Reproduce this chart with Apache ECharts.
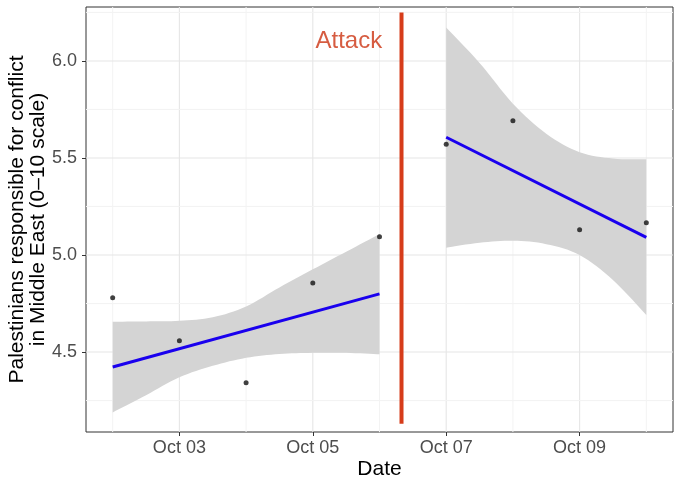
<!DOCTYPE html>
<html>
<head>
<meta charset="utf-8">
<script src="https://cdn.jsdelivr.net/npm/echarts@6/dist/echarts.min.js"></script>
<style>
  html, body { margin: 0; padding: 0; background: #fff; }
  #chart { width: 680px; height: 486px; }
</style>
</head>
<body>
<div id="chart"></div>
<script>
// x values are days of October
const pointDays = [2, 3, 4, 5, 6, 7, 8, 9, 10]
const pointValues = [4.78, 4.558, 4.342, 4.856, 5.094, 5.571, 5.692, 5.13, 5.166]

// fitted lines (before / after the attack)
const preFitDays = [2, 6]
const preFitValues = [4.423, 4.80]
const postFitDays = [7, 10]
const postFitValues = [5.607, 5.091]

// confidence bands
const preBandDays = [2, 2.5, 3, 3.5, 4, 4.5, 5, 5.5, 6]
const preBandUpper = [4.656, 4.658, 4.661, 4.679, 4.735, 4.833, 4.926, 5.017, 5.108]
const preBandLower = [4.189, 4.278, 4.37, 4.429, 4.47, 4.49, 4.496, 4.496, 4.488]
const postBandDays = [7, 7.5, 8, 8.5, 9, 9.5, 10]
const postBandUpper = [6.172, 5.99, 5.78, 5.625, 5.53, 5.497, 5.493]
const postBandLower = [5.038, 5.063, 5.074, 5.056, 5.0, 4.871, 4.691]

// attack marker
const attackDay = 6.33
const attackSpan = [4.13, 6.25]
const attackLabelAt = [5.54, 6.1]

// ticks
const xTickDays = [3, 5, 7, 9]
const xTickLabels = ['Oct 03', 'Oct 05', 'Oct 07', 'Oct 09']
const xMinorDays = [2, 4, 6, 8, 10]
const yTicks = [4.5, 5.0, 5.5, 6.0]
const yTickLabels = ['4.5', '5.0', '5.5', '6.0']
const yMinorTicks = [4.25, 4.75, 5.25, 5.75, 6.25]

const FONT = 'Liberation Sans, Arial, Helvetica, sans-serif'
const RED = '#d63c1a'
const BLUE = '#1a00ee'

const bands = [
  { days: preBandDays, upper: preBandUpper, lower: preBandLower },
  { days: postBandDays, upper: postBandUpper, lower: postBandLower }
]

// smooth a pixel polyline (Catmull-Rom), drawing only
const smoothPts = (pts, steps = 8) => {
  const out = []
  for (let i = 0; i < pts.length - 1; i++) {
    const p0 = pts[Math.max(i - 1, 0)], p1 = pts[i], p2 = pts[i + 1], p3 = pts[Math.min(i + 2, pts.length - 1)]
    for (let s = 0; s < steps; s++) {
      const t = s / steps, t2 = t * t, t3 = t2 * t
      out.push([0, 1].map(k => 0.5 * (2 * p1[k] + (-p0[k] + p2[k]) * t +
        (2 * p0[k] - 5 * p1[k] + 4 * p2[k] - p3[k]) * t2 + (-p0[k] + 3 * p1[k] - 3 * p2[k] + p3[k]) * t3)))
    }
  }
  out.push(pts[pts.length - 1])
  return out
}

const chart = echarts.init(document.getElementById('chart'))

// grid lines drawn through the axis scales
const gridLineSeries = (dir) => ({
  type: 'custom',
  silent: true,
  z: 1,
  encode: dir === 'x' ? { x: 0 } : { y: 0 },
  data: dir === 'x'
    ? xTickDays.map(v => [v, 1]).concat(xMinorDays.map(v => [v, 0]))
    : yTicks.map(v => [v, 1]).concat(yMinorTicks.map(v => [v, 0])),
  renderItem: (params, api) => {
    const cs = params.coordSys
    const major = api.value(1) === 1
    const style = { stroke: major ? '#e6e6e6' : '#f3f3f3', lineWidth: major ? 1.1 : 1 }
    if (dir === 'x') {
      const px = api.coord([api.value(0), 5])[0]
      return { type: 'line', shape: { x1: px, y1: cs.y, x2: px, y2: cs.y + cs.height }, style }
    }
    const py = api.coord([5, api.value(0)])[1]
    return { type: 'line', shape: { x1: cs.x, y1: py, x2: cs.x + cs.width, y2: py }, style }
  }
})

const option = {
  animation: false,
  textStyle: { fontFamily: FONT },
  grid: {
    left: 86, right: 7, top: 7, bottom: 54,
    outerBoundsMode: 'none',
    containLabel: false,
    show: true, borderColor: '#333', borderWidth: 1, backgroundColor: '#fff'
  },
  xAxis: {
    type: 'value',
    min: 1.6,
    max: 10.4,
    name: 'Date',
    nameLocation: 'middle',
    nameGap: 27,
    nameMoveOverlap: false,
    nameTextStyle: { fontSize: 21, color: '#000', fontFamily: FONT },
    axisLine: { show: false },
    axisTick: { show: true, length: 4, customValues: xTickDays, lineStyle: { color: '#333' } },
    axisLabel: {
      customValues: xTickDays,
      formatter: v => xTickLabels[xTickDays.indexOf(v)] || '',
      color: '#4d4d4d', fontSize: 18, margin: 7, fontFamily: FONT
    },
    splitLine: { show: false }
  },
  yAxis: {
    type: 'value',
    min: 4.088,
    max: 6.278,
    name: 'Palestinians responsible for conflict\nin Middle East (0–10 scale)',
    nameLocation: 'middle',
    nameRotate: 90,
    nameGap: 37,
    nameMoveOverlap: false,
    nameTextStyle: { fontSize: 21, lineHeight: 21, color: '#000', align: 'center', fontFamily: FONT },
    axisLine: { show: false },
    axisTick: { show: true, length: 4, customValues: yTicks, lineStyle: { color: '#333' } },
    axisLabel: {
      customValues: yTicks,
      formatter: v => yTickLabels[yTicks.indexOf(v)] || '',
      color: '#4d4d4d', fontSize: 18, margin: 9, fontFamily: FONT
    },
    splitLine: { show: false }
  },
  series: [
    gridLineSeries('x'),
    gridLineSeries('y'),
    {
      // confidence ribbons
      type: 'custom',
      silent: true,
      z: 2,
      encode: { x: 0, y: 1 },
      data: bands.map((b, i) => [b.days[0], b.lower[0], i]),
      renderItem: (params, api) => {
        const b = bands[api.value(2)]
        const top = smoothPts(b.days.map((d, i) => api.coord([d, b.upper[i]])))
        const bottom = smoothPts(b.days.map((d, i) => api.coord([d, b.lower[i]]))).reverse()
        return {
          type: 'polygon',
          shape: { points: top.concat(bottom) },
          style: { fill: '#d4d4d4' }
        }
      }
    },
    {
      type: 'line',
      z: 3,
      data: preFitDays.map((d, i) => [d, preFitValues[i]]),
      symbol: 'none',
      lineStyle: { color: BLUE, width: 3 }
    },
    {
      type: 'line',
      z: 3,
      data: postFitDays.map((d, i) => [d, postFitValues[i]]),
      symbol: 'none',
      lineStyle: { color: BLUE, width: 3 }
    },
    {
      type: 'scatter',
      z: 4,
      data: pointDays.map((d, i) => [d, pointValues[i]]),
      symbolSize: 5,
      itemStyle: { color: '#111' }
    },
    {
      type: 'line',
      z: 5,
      data: attackSpan.map(v => [attackDay, v]),
      symbol: 'none',
      lineStyle: { color: RED, width: 4 }
    },
    {
      type: 'scatter',
      z: 5,
      silent: true,
      data: [attackLabelAt],
      symbolSize: 1,
      itemStyle: { color: 'rgba(0,0,0,0)' },
      label: {
        show: true,
        position: 'inside',
        formatter: 'Attack',
        color: '#cc3311',
        textBorderWidth: 0,
        fontSize: 24,
        fontFamily: FONT
      }
    }
  ]
}

chart.setOption(option)
</script>
</body>
</html>
